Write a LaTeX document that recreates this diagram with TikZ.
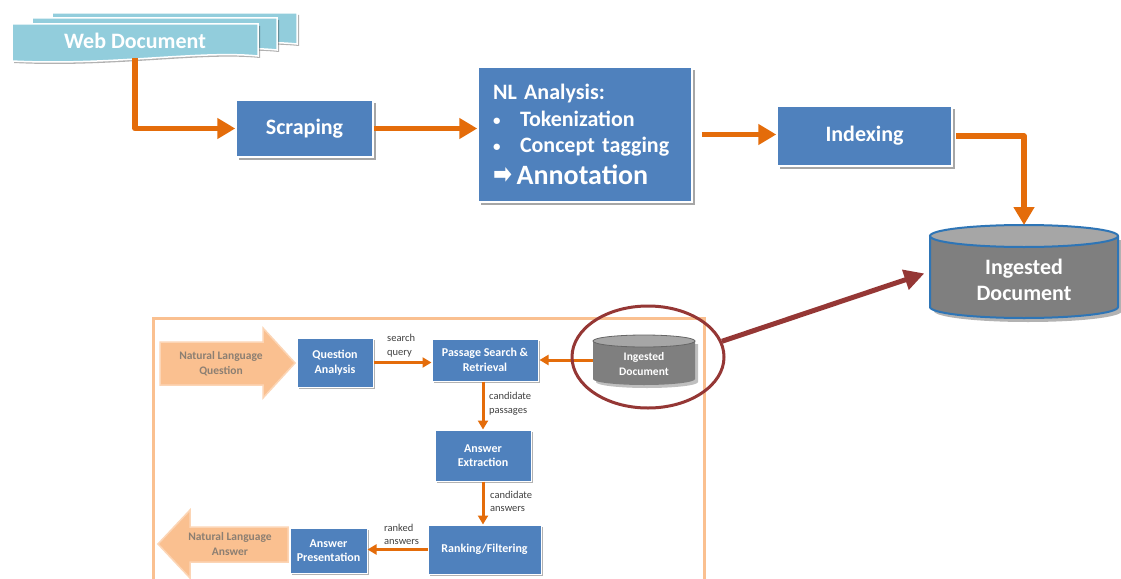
\documentclass[tikz,border=0pt]{standalone}
\usepackage{fontspec}
\usepackage{graphicx}
\setmainfont{Carlito}
\newfontfamily\symfont{DejaVu Sans}
\usetikzlibrary{shadows,arrows.meta,shapes.geometric}

\definecolor{boxblue}{HTML}{4F81BD}
\definecolor{flow}{HTML}{E46C0A}
\definecolor{wine}{HTML}{953735}
\definecolor{peach}{HTML}{FAC090}
\definecolor{peachlight}{HTML}{FCD5B5}
\definecolor{aqua}{HTML}{92CDDC}
\definecolor{dbgray}{HTML}{7F7F7F}
\definecolor{dbtop}{HTML}{A6A6A6}
\definecolor{dbedge}{HTML}{2E75B6}
\definecolor{labelgray}{HTML}{404040}
\definecolor{peachtext}{HTML}{8C7F72}

% small list bullet and heavy arrow used inside the analysis box
\newcommand\listdot{\makebox[27pt][l]{\raisebox{1pt}{\fontsize{15}{15}\selectfont\textbullet}}}
\newcommand\heavyarrow{\raisebox{1pt}{\resizebox*{19pt}{16pt}{\symfont ➡}}}

\tikzset{
  softshadow/.style={drop shadow={shadow xshift=3pt,shadow yshift=-3pt,fill=black,opacity=0.35}},
  thinshadow/.style={drop shadow={shadow xshift=2pt,shadow yshift=-2pt,fill=black,opacity=0.3}},
  bigbox/.style={fill=boxblue,draw=white,line width=1.5pt,softshadow,text=white,
    font=\fontsize{22}{26}\selectfont\bfseries,inner sep=0pt,align=center},
  smallbox/.style={fill=boxblue,draw=white,line width=1pt,thinshadow,text=white,
    font=\fontsize{12}{14.5}\selectfont\bfseries,inner sep=0pt,align=center},
  tabsheet/.style={fill=aqua,draw=white,line width=1.5pt,thinshadow},
  bigflow/.style={draw=flow,line width=5.5pt,line join=round,-{Triangle[length=18pt,width=20pt]}},
  smallflow/.style={draw=flow,line width=3pt,-{Triangle[length=9pt,width=10pt]}},
  edgelabel/.style={font=\fontsize{10.5}{13.5}\selectfont,text=labelgray,align=left,anchor=west,inner sep=0pt},
  bigarrow/.style={fill=peach,draw=peachlight,line width=1.5pt},
  arrowtext/.style={font=\fontsize{11.5}{15}\selectfont\bfseries,text=peachtext,align=center,inner sep=0pt},
  dbtext/.style={text=white,align=center,inner sep=0pt,font=\bfseries},
  anchorbox/.style={inner sep=0pt,outer sep=0pt},
}

\begin{document}
\begin{tikzpicture}[x=1pt,y=-1pt]
\useasboundingbox (0,0) rectangle (1121,578);
\clip (0,0) rectangle (1121,578);
\fill[white] (0,0) rectangle (1121,578);

% stacked web pages
\filldraw[tabsheet] (52,13) -- (297,13) -- (297,44) .. controls (240,38) and (150,52) .. (52,48) -- cycle;
\filldraw[tabsheet] (32,18) -- (277,18) -- (277,50) .. controls (220,44) and (130,58) .. (32,54) -- cycle;
\filldraw[tabsheet] (12,24) -- (258,24) -- (258,56) .. controls (200,50) and (110,66) .. (12,61) -- cycle;
\node[anchorbox,minimum width=246pt,minimum height=34pt,text=white,
      font=\fontsize{22}{26}\selectfont\bfseries] (web) at (135,41) {Web Document};

% ingestion pipeline
\node[bigbox,minimum width=137pt,minimum height=57pt] (scrape) at (304.5,128.5) {Scraping};
\node[bigbox,minimum width=214pt,minimum height=135pt,text width=184pt,align=left] (nl) at (585,134.5)
  {\raisebox{1.5pt}{NL Analysis:}\\[-1pt]
   \listdot Tokenization\\
   \listdot Concept tagging\\[6pt]
   {\fontsize{28}{30}\selectfont\heavyarrow\,Annotation}};
\node[bigbox,minimum width=175pt,minimum height=60pt] (idx) at (864.5,136) {Indexing};

% large document store
\fill[black,opacity=0.3] (934,240) -- (934,311) arc[start angle=180,end angle=0,x radius=94,y radius=11] -- (1122,240) -- cycle;
\fill[dbgray] (930,236) -- (930,307) arc[start angle=180,end angle=0,x radius=94,y radius=11] -- (1118,236) -- cycle;
\filldraw[fill=dbtop,draw=dbedge,line width=2pt] (1024,236) ellipse[x radius=94,y radius=11];
\draw[dbedge,line width=2pt] (930,236) -- (930,307) arc[start angle=180,end angle=0,x radius=94,y radius=11] -- (1118,236);
\node[anchorbox,minimum width=188pt,minimum height=93pt] (ingest) at (1024,271.5) {};
\node[dbtext,font=\fontsize{22}{26}\selectfont\bfseries] (ingestlbl) at (1024,280) {Ingested\\Document};

\draw[bigflow] (web.south) |- (scrape.west);
\draw[bigflow] (scrape.east) -- (scrape.east -| nl.west);
\draw[bigflow,shorten <=9pt] (nl.east) -- (nl.east -| idx.west);
\draw[bigflow,shorten <=3pt] (idx.east) -| (ingest.north);

% question answering panel
\draw[peach,line width=3pt] (153,318) rectangle (704,620);

\filldraw[bigarrow] (160,342) -- (263,342) -- (263,328) -- (295,363) -- (263,398) -- (263,385) -- (160,385) -- cycle;
\node[arrowtext] (qin) at (221,364) {Natural Language\\Question};
\filldraw[bigarrow] (288,527) -- (190,527) -- (190,510) -- (158,544) -- (190,578) -- (190,562) -- (288,562) -- cycle;
\node[arrowtext] (aout) at (230,544.5) {Natural Language\\Answer};

\node[smallbox,minimum width=76pt,minimum height=49pt] (qa) at (335,362.5) {Question\\Analysis};
\node[smallbox,minimum width=106pt,minimum height=42pt] (psr) at (485,360) {Passage Search \&\\Retrieval};
\node[smallbox,minimum width=96pt,minimum height=51pt] (ae) at (483,455.5) {Answer\\Extraction};
\node[smallbox,minimum width=113pt,minimum height=49pt] (rf) at (484.5,549.5) {Ranking/Filtering};
\node[smallbox,minimum width=77pt,minimum height=45pt] (ap) at (328.5,550.5) {Answer\\Presentation};

% small document store
\fill[black,opacity=0.25] (596,344) -- (596,382) arc[start angle=180,end angle=0,x radius=51,y radius=6] -- (698,344) -- cycle;
\fill[dbgray] (593,341) -- (593,379) arc[start angle=180,end angle=0,x radius=51,y radius=6] -- (695,341) -- cycle;
\filldraw[fill=dbtop,draw=dbgray!80!black,line width=0.8pt] (644,341) ellipse[x radius=51,y radius=6];
\node[anchorbox,minimum width=102pt,minimum height=50pt] (smalldb) at (644,360) {};
\node[dbtext,font=\fontsize{11.5}{14.5}\selectfont\bfseries] (smalldblbl) at (644,364) {Ingested\\Document};

\draw[smallflow] (qa.east) -- (qa.east -| psr.west);
\draw[smallflow,shorten >=1pt] (smalldb.west) -- (smalldb.west -| psr.east);
\draw[smallflow] (ae.north |- psr.south) -- (ae.north);
\draw[smallflow] (ae.south) -- (ae.south |- rf.north);
\draw[smallflow] (rf.west) -- (rf.west -| ap.east);

\node[edgelabel] (lsearch) at (387,345.5) {search\\query};
\node[edgelabel] (lpass) at (489,404) {candidate\\passages};
\node[edgelabel] (lcand) at (490,501.5) {candidate\\answers};
\node[edgelabel] (lrank) at (384,534.5) {ranked\\answers};

% highlight ring and link to the store
\node[ellipse,draw=wine,line width=3pt,minimum width=152pt,minimum height=102pt,inner sep=0pt] (ring) at (648,357) {};
\draw[wine,line width=5pt,shorten >=6pt,-{Triangle[length=20pt,width=20pt]}] (ring.12) -- (ingest.west);
\end{tikzpicture}
\end{document}
